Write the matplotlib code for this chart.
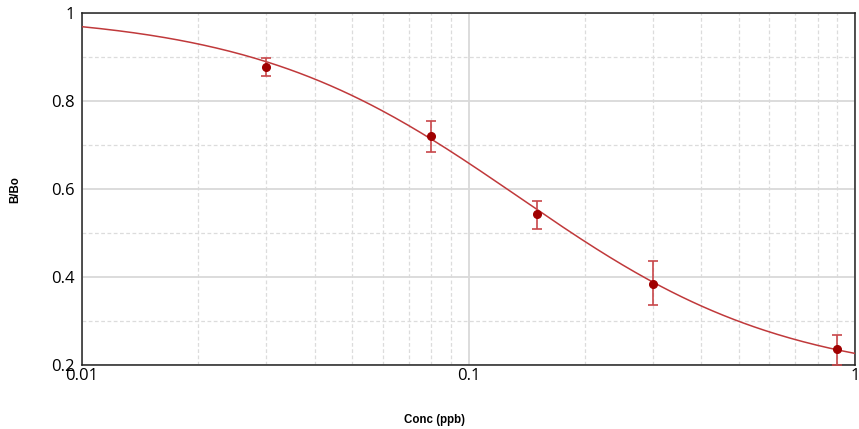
import matplotlib
matplotlib.use("Agg")
import matplotlib.pyplot as plt
import numpy as np
from matplotlib.ticker import LogLocator, FixedLocator, NullFormatter

# standard points (conc in ppb) and B/Bo with error bars
conc = [0.03, 0.08, 0.15, 0.3, 0.9]
bbo = [0.877, 0.720, 0.543, 0.384, 0.236]
err_lo = [0.020, 0.036, 0.034, 0.048, 0.036]
err_hi = [0.021, 0.035, 0.030, 0.052, 0.032]

# 4PL fit parameters (top, slope, IC50, bottom)
fit_top = 1.0
fit_slope = 1.25
fit_ic50 = 0.135
fit_bottom = 0.163

xticks = [0.01, 0.1, 1]
xtick_labels = ['0.01', '0.1', '1']
yticks = [0.2, 0.4, 0.6, 0.8, 1.0]
ytick_labels = ['0.2', '0.4', '0.6', '0.8', '1']
yminor = [0.3, 0.5, 0.7, 0.9]


def four_pl(x):
    return fit_bottom + (fit_top - fit_bottom) / (1 + (x / fit_ic50) ** fit_slope)


plt.rcParams['font.family'] = ['Open Sans', 'DejaVu Sans']

fig = plt.figure(figsize=(8.59, 4.29), dpi=100)
ax = fig.add_axes([82 / 859, 64 / 429, 773 / 859, 352 / 429])

xs = np.logspace(-2, 0, 300)
ax.plot(xs, four_pl(xs), color='#c0393b', lw=1.1, zorder=3)

ax.errorbar(conc, bbo, yerr=[err_lo, err_hi], fmt='o', color='#a00000',
            ecolor='#c8474a', elinewidth=1.2, capsize=3.5, capthick=1.2,
            markersize=5.5, zorder=4)

ax.set_xscale('log')
ax.set_xlim(0.01, 1)
ax.set_ylim(0.2, 1.0)

ax.xaxis.set_major_locator(FixedLocator(xticks))
ax.set_xticklabels(xtick_labels)
ax.xaxis.set_minor_locator(LogLocator(base=10, subs=np.arange(2, 10)))
ax.xaxis.set_minor_formatter(NullFormatter())
ax.set_yticks(yticks)
ax.set_yticklabels(ytick_labels)
ax.yaxis.set_minor_locator(FixedLocator(yminor))

ax.grid(True, which='major', color='#d9d9d9', lw=1.3, ls='-')
ax.grid(True, which='minor', color='#dcdcdc', lw=0.9, ls=(0, (3, 2)))
ax.set_axisbelow(True)

ax.tick_params(which='both', length=0)
ax.tick_params(axis='x', pad=2, labelsize=12)
ax.tick_params(axis='y', pad=5, labelsize=12)

for s in ax.spines.values():
    s.set_color('#222222')
    s.set_linewidth(1.1)

fig.text(434 / 859, 1 - 420 / 429, 'Conc (ppb)', ha='center', va='center',
         fontsize=8.3, fontweight='bold', family='Liberation Sans')
fig.text(15 / 859, 1 - 190 / 429, 'B/Bo', ha='center', va='center',
         rotation=90, fontsize=8.3, fontweight='bold', family='Liberation Sans')

fig.savefig('out.png', dpi=100)
